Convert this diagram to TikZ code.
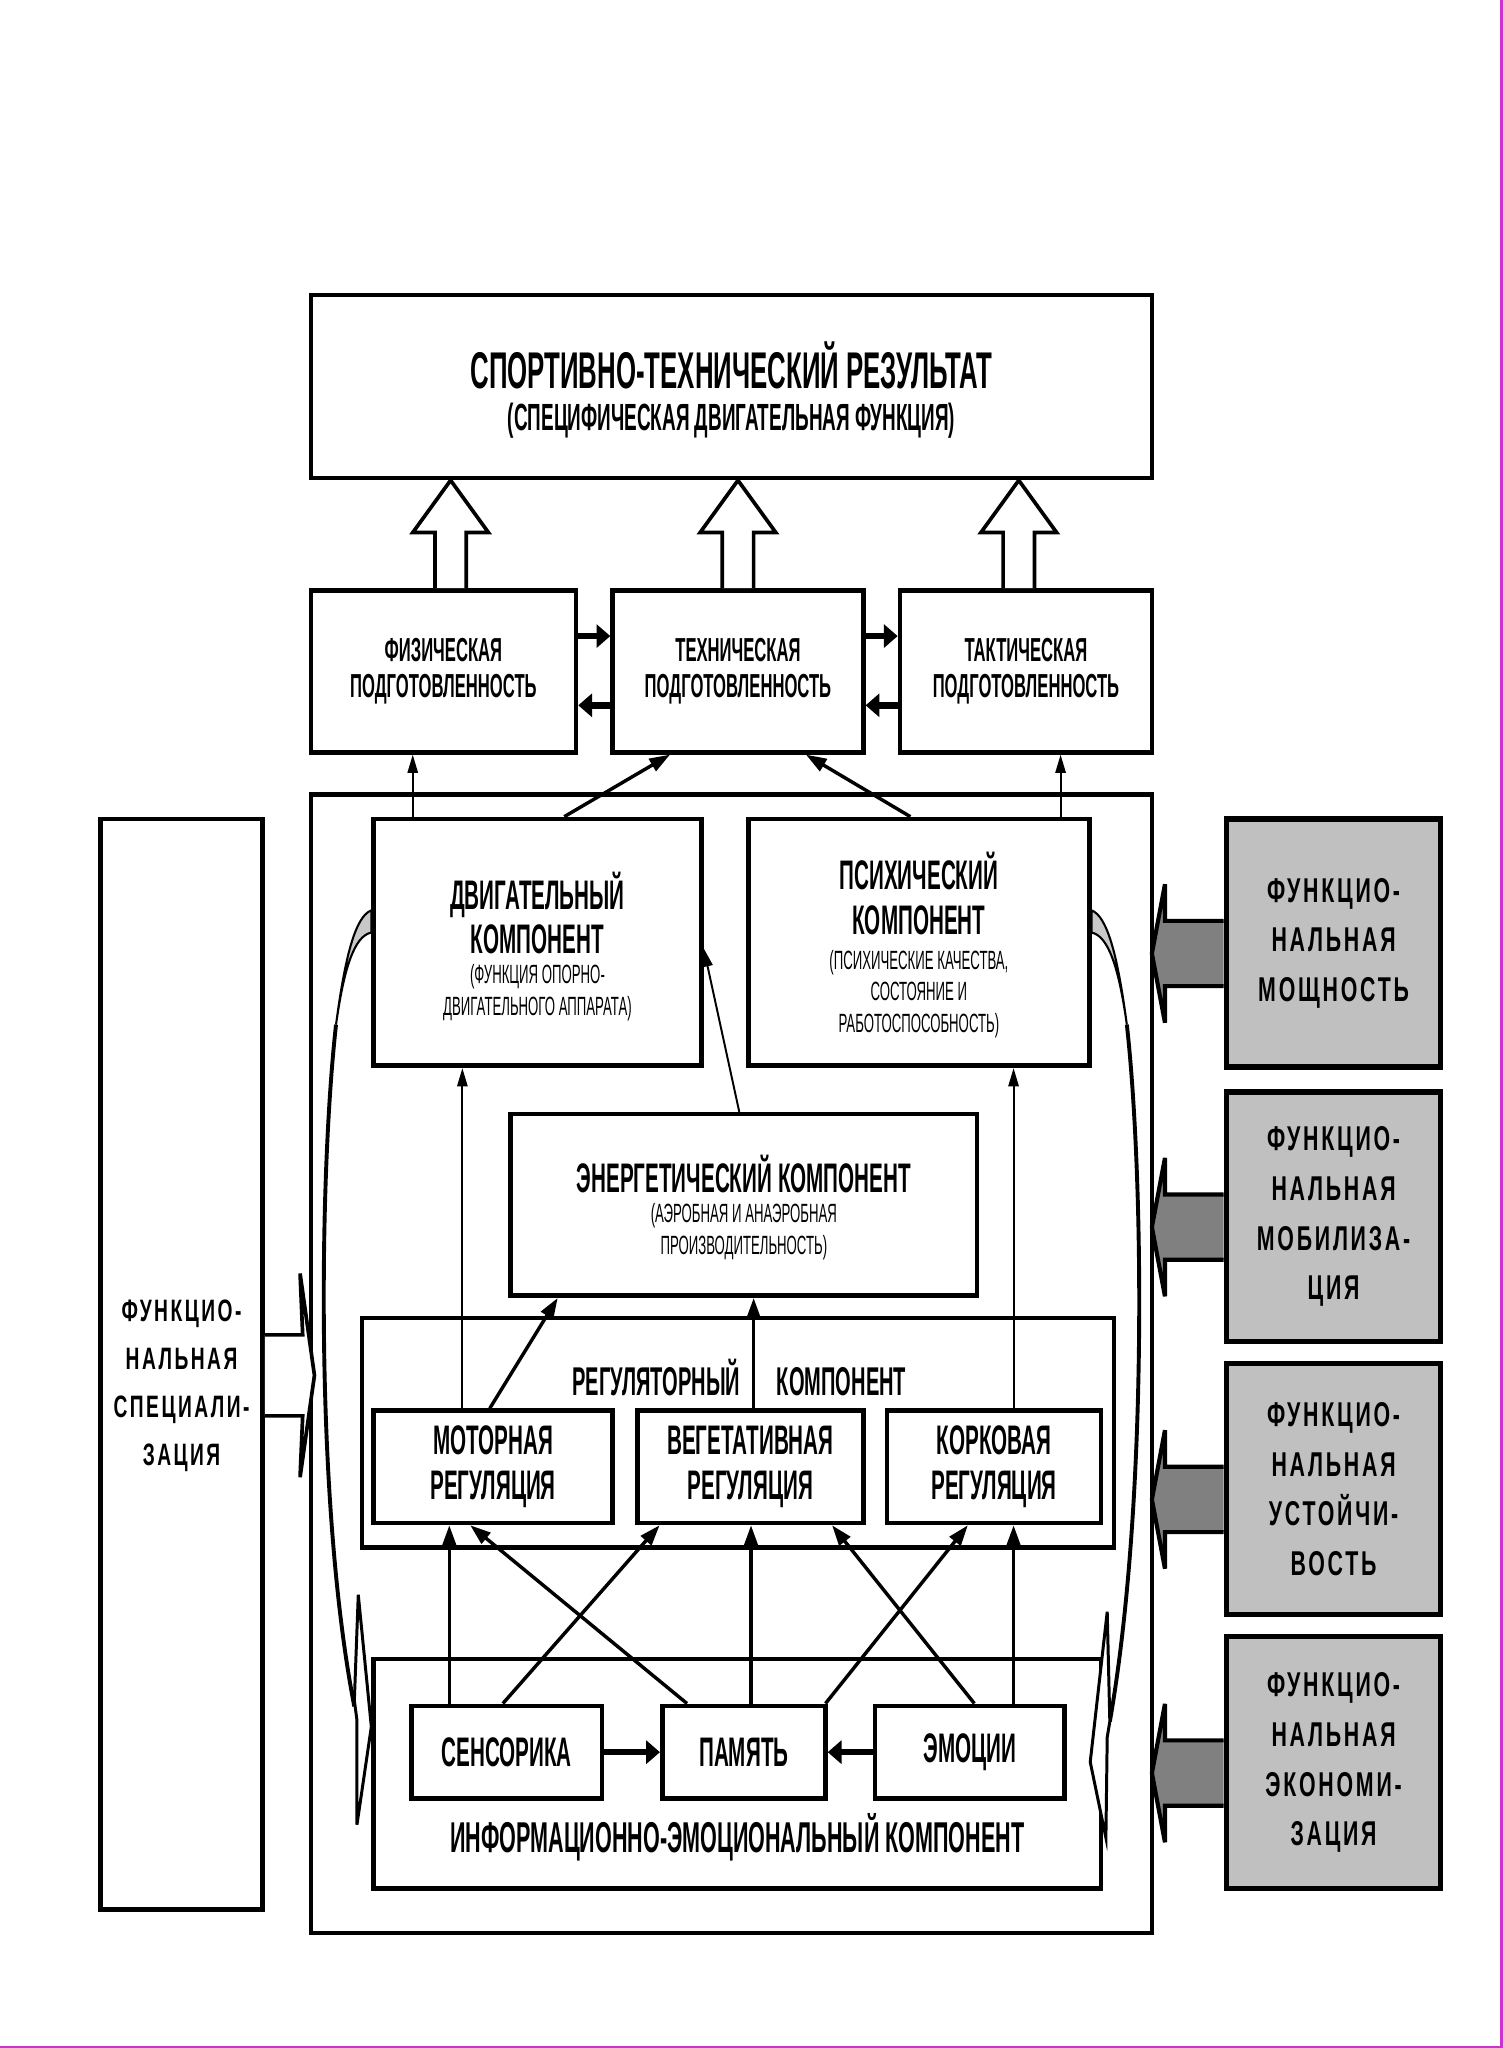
\documentclass[tikz,border=0pt]{standalone}
\usepackage{fontspec}
\setmainfont{Liberation Sans}
\newfontfamily\narrowfont{Liberation Sans}[FakeStretch=0.5]
\newfontfamily\spacedfont{Liberation Sans}[FakeStretch=0.62,LetterSpace=8]
\usetikzlibrary{arrows.meta, calc}
\definecolor{boxgray}{RGB}{192,192,192}
\definecolor{cresgray}{RGB}{200,200,200}
\definecolor{arrowgray}{RGB}{128,128,128}
\definecolor{pagemagenta}{RGB}{204,51,204}
\tikzstyle{box} = [draw, line width=2pt, inner sep=0pt, align=center]
\tikzstyle{rowbox} = [box, font=\narrowfont\bfseries\fontsize{14.5}{15.9}\selectfont]
\tikzstyle{regbox} = [box, font=\narrowfont\bfseries\fontsize{18}{19.3}\selectfont]
\tikzstyle{graybox} = [draw, line width=2.4pt, fill=boxgray, inner sep=0pt, align=center, font=\spacedfont\bfseries\fontsize{15}{21.6}\selectfont]
\tikzstyle{bigtxt} = [inner sep=0pt, align=center, font=\narrowfont\bfseries\fontsize{18}{19.3}\selectfont]
\tikzstyle{smalltxt} = [inner sep=0pt, align=center, font=\narrowfont\fontsize{11.5}{13.6}\selectfont]
\tikzstyle{arrow} = [line width=0.85pt, -{Triangle[length=8pt,width=4.5pt]}]
\tikzstyle{midarrow} = [line width=1.5pt, -{Triangle[length=9pt,width=6pt]}]
\tikzstyle{thickarrow} = [line width=2.8pt, -{Triangle[length=6pt,width=10pt]}]
\tikzstyle{hollow} = [line width=1.6pt, fill=white, line join=miter]
\tikzstyle{grayarrow} = [line width=1.8pt, fill=arrowgray, line join=miter]
\tikzstyle{curve} = [line width=1.7pt]
\tikzstyle{crescent} = [line width=0.9pt, fill=cresgray]

\begin{document}
\begin{tikzpicture}[x=0.02cm, y=-0.02cm]
        \fill[white] (0,0) rectangle (1150,1568);
        \useasboundingbox (0,0) rectangle (1150,1568);

        % result and preparedness
        \node at (560,296) [box, minimum width=12.88cm, minimum height=2.8cm](res) {};
        \node at (560,280) [bigtxt, font=\narrowfont\bfseries\fontsize{22.5}{24}\selectfont](resA) {СПОРТИВНО-ТЕХНИЧЕСКИЙ РЕЗУЛЬТАТ};
        \node at (560,322) [bigtxt, font=\narrowfont\bfseries\fontsize{16.5}{18}\selectfont](resB) {(СПЕЦИФИЧЕСКАЯ ДВИГАТЕЛЬНАЯ ФУНКЦИЯ)};

        \node at (339.5,514) [rowbox, minimum width=4.06cm, minimum height=2.48cm](phys) {ФИЗИЧЕСКАЯ\\ПОДГОТОВЛЕННОСТЬ};
        \node at (565,514) [rowbox, minimum width=3.84cm, minimum height=2.48cm](tech) {ТЕХНИЧЕСКАЯ\\ПОДГОТОВЛЕННОСТЬ};
        \node at (785.5,514) [rowbox, minimum width=3.86cm, minimum height=2.48cm](tact) {ТАКТИЧЕСКАЯ\\ПОДГОТОВЛЕННОСТЬ};

        % big frame with components
        \node at (560,1044) [box, minimum width=12.88cm, minimum height=17.44cm](frame) {};
        \node at (411.5,721.5) [box, minimum width=5.02cm, minimum height=3.78cm](dvig) {};
        \node at (411.5,699) [bigtxt](dvigA) {ДВИГАТЕЛЬНЫЙ\\КОМПОНЕНТ};
        \node at (411.5,760) [smalltxt](dvigB) {(ФУНКЦИЯ ОПОРНО-\\ДВИГАТЕЛЬНОГО АППАРАТА)};
        \node at (703.5,721.5) [box, minimum width=5.22cm, minimum height=3.78cm](psych) {};
        \node at (703.5,684) [bigtxt](psychA) {ПСИХИЧЕСКИЙ\\КОМПОНЕНТ};
        \node at (703.5,761) [smalltxt](psychB) {(ПСИХИЧЕСКИЕ КАЧЕСТВА,\\СОСТОЯНИЕ И\\РАБОТОСПОСОБНОСТЬ)};
        \node at (569.5,922.5) [box, minimum width=7.14cm, minimum height=2.78cm](energy) {};
        \node at (569.5,899) [bigtxt](energyA) {ЭНЕРГЕТИЧЕСКИЙ КОМПОНЕНТ};
        \node at (569.5,943) [smalltxt](energyB) {(АЭРОБНАЯ И АНАЭРОБНАЯ\\ПРОИЗВОДИТЕЛЬНОСТЬ)};

        \node at (565,1097) [box, minimum width=11.52cm, minimum height=3.52cm](reg) {};
        \node at (566,1055) [bigtxt, font=\narrowfont\bfseries\fontsize{17.5}{19}\selectfont](regT) {РЕГУЛЯТОРНЫЙ\hspace{16pt}КОМПОНЕНТ};
        \node at (377.5,1123) [regbox, minimum width=3.66cm, minimum height=1.72cm](moto) {МОТОРНАЯ\\РЕГУЛЯЦИЯ};
        \node at (574.5,1123) [regbox, minimum width=3.46cm, minimum height=1.72cm](veget) {ВЕГЕТАТИВНАЯ\\РЕГУЛЯЦИЯ};
        \node at (761,1123) [regbox, minimum width=3.28cm, minimum height=1.72cm](kork) {КОРКОВАЯ\\РЕГУЛЯЦИЯ};

        \node at (564.5,1358) [box, minimum width=11.14cm, minimum height=3.52cm](info) {};
        \node at (564.5,1407) [bigtxt, font=\narrowfont\bfseries\fontsize{18.8}{21}\selectfont](infoT) {ИНФОРМАЦИОННО-ЭМОЦИОНАЛЬНЫЙ КОМПОНЕНТ};
        \node at (388,1341.5) [regbox, minimum width=2.92cm, minimum height=1.42cm](sens) {СЕНСОРИКА};
        \node at (569.5,1341.5) [regbox, minimum width=2.5cm, minimum height=1.42cm](pam) {ПАМЯТЬ};
        \node at (742.5,1341.5) [regbox, minimum width=2.9cm, minimum height=1.42cm](emo) {ЭМОЦИИ};

        % side boxes
        \node at (139,1044.5) [box, minimum width=2.48cm, minimum height=16.7cm](spec) {};
        \node at (139,1061) [inner sep=0pt, align=center, font=\spacedfont\bfseries\fontsize{13.5}{21}\selectfont](specT) {ФУНКЦИО-\\НАЛЬНАЯ\\СПЕЦИАЛИ-\\ЗАЦИЯ};
        \node at (1021,722) [graybox, minimum width=3.28cm, minimum height=3.8cm](g1) {ФУНКЦИО-\\НАЛЬНАЯ\\МОЩНОСТЬ};
        \node at (1021,931.5) [graybox, minimum width=3.28cm, minimum height=3.82cm](g2) {ФУНКЦИО-\\НАЛЬНАЯ\\МОБИЛИЗА-\\ЦИЯ};
        \node at (1021,1140) [graybox, minimum width=3.28cm, minimum height=3.84cm](g3) {ФУНКЦИО-\\НАЛЬНАЯ\\УСТОЙЧИ-\\ВОСТЬ};
        \node at (1021,1349.5) [graybox, minimum width=3.28cm, minimum height=3.86cm](g4) {ФУНКЦИО-\\НАЛЬНАЯ\\ЭКОНОМИ-\\ЗАЦИЯ};

        % hollow arrows up to the result
        \foreach \bn/\dx [count=\i] in {phys/5.5, tech/0, tact/-5.5} {
            \coordinate (b\i) at ($(\bn.north)+(\dx,0)$);
            \coordinate (t\i) at (b\i |- res.south);
            \draw[hollow] ($(b\i)+(-12,0)$) -- ($(t\i)+(-12,40)$) -- ($(t\i)+(-29,40)$) -- (t\i) -- ($(t\i)+(29,40)$) -- ($(t\i)+(12,40)$) -- ($(b\i)+(12,0)$);
        }

        \draw[thickarrow] ($(phys.east)+(0,-27)$) -- ($(tech.west)+(0,-27)$);
        \draw[thickarrow] ($(tech.west)+(0,26)$) -- ($(phys.east)+(0,26)$);
        \draw[thickarrow] ($(tech.east)+(0,-27)$) -- ($(tact.west)+(0,-27)$);
        \draw[thickarrow] ($(tact.west)+(0,26)$) -- ($(tech.east)+(0,26)$);

        % components to preparedness
        \coordinate (p1) at ($(dvig.north)+(-95.5,0)$);
        \draw[arrow] (p1) -- (p1 |- phys.south);
        \coordinate (p2) at ($(psych.north)+(108.5,0)$);
        \draw[arrow] (p2) -- (p2 |- tact.south);
        \draw[midarrow] ($(dvig.north)+(20.5,0)$) -- ($(tech.south)+(-52,0)$);
        \draw[midarrow] ($(psych.north)+(-6.5,0)$) -- ($(tech.south)+(52,0)$);

        \draw[arrow] ($(energy.north)+(-3.5,0)$) -- ($(dvig.east)+(0,4.5)$);
        \coordinate (m1) at ($(moto.north)+(-23.5,0)$);
        \draw[arrow] (m1) -- (m1 |- dvig.south);
        \coordinate (k1) at ($(kork.north)+(15,0)$);
        \draw[arrow] (k1) -- (k1 |- psych.south);
        \draw[midarrow] ($(moto.north)+(-2.5,0)$) -- ($(energy.south)+(-142.5,0)$);
        \coordinate (v1) at ($(veget.north)+(2.5,0)$);
        \draw[midarrow] (v1) -- (v1 |- energy.south);

        % information to regulation
        \coordinate (s1) at ($(sens.north)+(-44,0)$);
        \draw[midarrow] (s1) -- (s1 |- moto.south);
        \draw[midarrow] ($(sens.north)+(-3,0)$) -- ($(veget.south)+(-69.5,0)$);
        \draw[midarrow] ($(pam.north)+(-43.5,0)$) -- ($(moto.south)+(-17.5,0)$);
        \coordinate (s2) at ($(pam.north)+(5.5,0)$);
        \draw[midarrow] (s2) -- (s2 |- veget.south);
        \draw[midarrow] ($(pam.north)+(62.5,0)$) -- ($(kork.south)+(-20,0)$);
        \draw[midarrow] ($(emo.north)+(3.5,0)$) -- ($(veget.south)+(62.5,0)$);
        \coordinate (s3) at ($(emo.north)+(33.5,0)$);
        \draw[midarrow] (s3) -- (s3 |- kork.south);
        \draw[thickarrow] (sens.east) -- (pam.west);
        \draw[thickarrow] (emo.west) -- (pam.east);

        % curved feedback arrows
        \coordinate (dl) at (dvig.west);
        \coordinate (il) at (info.west);
        \draw[crescent] ($(dl)+(0,-24.5)$) .. controls ($(dl)+(-12,-20)$) and ($(dl)+(-20,10)$) .. ($(dl)+(-27,63)$) .. controls ($(dl)+(-21,20)$) and ($(dl)+(-13,-5)$) .. ($(dl)+(0,-7.5)$) -- cycle;
        \draw[curve] ($(dl)+(-27,63)$) .. controls ($(dl)+(-40,180)$) and ($(dl)+(-43,430)$) .. ($(dl)+(-13,585)$);
        \draw[hollow, line width=1.3pt] ($(il)+(-10,-137)$) -- ($(il)+(0,-36)$) -- ($(il)+(-11,39)$) -- ($(il)+(-11,-41)$) -- ($(il)+(-13,-56)$) -- cycle;

        \coordinate (dr) at (psych.east);
        \coordinate (ir) at (info.east);
        \draw[crescent] ($(dr)+(0,-24.5)$) .. controls ($(dr)+(12,-20)$) and ($(dr)+(20,10)$) .. ($(dr)+(27,63)$) .. controls ($(dr)+(21,20)$) and ($(dr)+(13,-5)$) .. ($(dr)+(0,-7.5)$) -- cycle;
        \draw[curve] ($(dr)+(27,63)$) .. controls ($(dr)+(40,180)$) and ($(dr)+(43,430)$) .. ($(dr)+(14,596.5)$);
        \draw[hollow, line width=1.3pt] ($(ir)+(3,-124)$) -- ($(ir)+(-10,-9)$) -- ($(ir)+(2,49)$) -- ($(ir)+(3,-28)$) -- ($(ir)+(5,-40)$) -- cycle;

        % side arrows
        \coordinate (sa) at ($(spec.east)+(0,8.5)$);
        \draw[hollow] ($(sa)+(0,-31)$) -- ($(sa)+(29,-31)$) -- ($(sa)+(27,-78)$) -- ($(sa)+(38,0)$) -- ($(sa)+(27,78)$) -- ($(sa)+(29,31)$) -- ($(sa)+(0,31)$);
        \foreach \g in {g1,g2,g3,g4} {
            \coordinate (ga) at ($(\g.west)+(0,8)$);
            \draw[grayarrow] ($(ga)+(0,-25)$) -- ($(ga)+(-45,-25)$) -- ($(ga)+(-45,-53)$) -- ($(ga)+(-55,0)$) -- ($(ga)+(-45,53)$) -- ($(ga)+(-45,25)$) -- ($(ga)+(0,25)$);
        }

        \draw[pagemagenta, line width=1pt] (1149.5,0) -- (1149.5,1567.5) -- (0,1567.5);
    \end{tikzpicture}
\end{document}
